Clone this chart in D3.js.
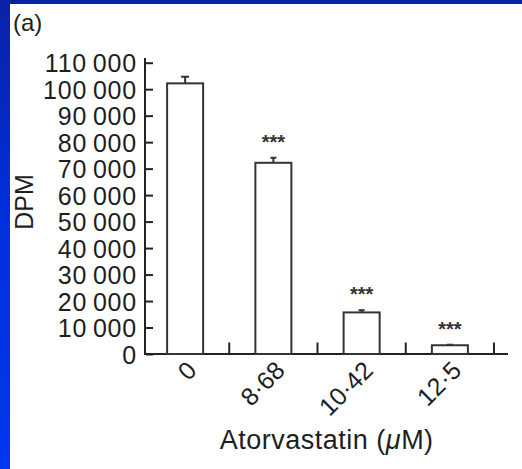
<!DOCTYPE html>
<html>
<head>
<meta charset="utf-8">
<script src="https://cdn.jsdelivr.net/npm/d3@7"></script>
<style>
  html, body { margin: 0; padding: 0; }
  body { width: 522px; height: 469px; overflow: hidden;
         background: linear-gradient(to bottom, #0b22a6 0%, #0030dc 45%, #0038ee 100%); }
  #chart { position: absolute; left: 10px; top: 4px; }
  text { font-family: "Liberation Sans", Arial, Helvetica, sans-serif; fill: #1e1e1e; }
</style>
</head>
<body>
<div id="chart"></div>
<script>
// 图表数据
const categories = ["0", "8·68", "10·42", "12·5"];
const dpm = [102200, 72200, 15700, 3300];
const dpmErr = [2500, 1900, 850, 200];
const stars = ["", "***", "***", "***"];
const yTicks = [0, 10000, 20000, 30000, 40000, 50000, 60000, 70000, 80000, 90000, 100000, 110000];

// 白色面板尺寸 (页面坐标减去偏移)
const ox = 10, oy = 4;
const width = 522 - ox;
const height = 469 - oy;

const svg = d3.select("#chart")
    .append("svg")
    .attr("width", width)
    .attr("height", height)
    .style("background", "#fff")
    .style("display", "block");

// g 内坐标 = 页面坐标
const g = svg.append("g").attr("transform", `translate(${-ox},${-oy})`);

// 坐标系
const y0 = 354;
const x = d3.scaleBand().domain(categories).range([141, 494]).padding(0);
const y = d3.scaleLinear().domain([0, 110000]).range([y0, 62.7]);
const barW = 36;

const fmt = d3.formatLocale({ decimal: ".", thousands: "\u2009", grouping: [3], currency: ["", ""] }).format(",d");

// y 轴
const yAxis = g.append("g")
    .attr("transform", "translate(145,0)")
    .call(d3.axisLeft(y).tickValues(yTicks).tickSize(-8).tickPadding(8).tickFormat(fmt));
yAxis.select(".domain").remove();
yAxis.selectAll(".tick line").attr("stroke", "#222").attr("stroke-width", 2).attr("x1", 1);
yAxis.selectAll(".tick text")
    .style("font-size", "25px")
    .style("letter-spacing", "0.8px")
    .attr("dy", "0.36em")
    .style("fill", "#1e1e1e");
g.append("line")
    .attr("x1", 145).attr("x2", 145)
    .attr("y1", y0 + 1).attr("y2", 58)
    .attr("stroke", "#222").attr("stroke-width", 2);

// x 轴
const xAxis = g.append("g")
    .attr("transform", `translate(0,${y0})`)
    .call(d3.axisBottom(x).tickSize(0));
xAxis.select(".domain").remove();
xAxis.selectAll(".tick text")
    .attr("x", 0).attr("y", 0).attr("dy", 0)
    .attr("text-anchor", "end")
    .attr("transform", "translate(13,18) rotate(-45)")
    .style("font-size", "25px")
    .style("fill", "#1e1e1e");

g.append("line")
    .attr("x1", 144).attr("x2", 508)
    .attr("y1", y0).attr("y2", y0)
    .attr("stroke", "#222").attr("stroke-width", 2);

// 类别分隔刻度 (向上)
g.append("g").selectAll("line")
    .data(categories)
    .enter()
    .append("line")
    .attr("x1", d => x(d) + x.bandwidth())
    .attr("x2", d => x(d) + x.bandwidth())
    .attr("y1", y0)
    .attr("y2", y0 - 11.5)
    .attr("stroke", "#222")
    .attr("stroke-width", 2);

// 柱子
g.append("g").selectAll("rect")
    .data(categories)
    .enter()
    .append("rect")
    .attr("x", d => x(d) + x.bandwidth() / 2 - barW / 2)
    .attr("y", (d, i) => y(dpm[i]))
    .attr("width", barW)
    .attr("height", (d, i) => y0 - y(dpm[i]))
    .attr("fill", "#fff")
    .attr("stroke", "#333")
    .attr("stroke-width", 2);

// 误差线
const errG = g.append("g");
categories.forEach((c, i) => {
    const cx = x(c) + x.bandwidth() / 2;
    const top = y(dpm[i] + dpmErr[i]);
    const capW = i === 0 ? 6 : 4;
    errG.append("line")
        .attr("x1", cx).attr("x2", cx)
        .attr("y1", y(dpm[i])).attr("y2", top)
        .attr("stroke", "#333").attr("stroke-width", 2);
    errG.append("line")
        .attr("x1", cx - capW / 2 - 1).attr("x2", cx + capW / 2 + 1)
        .attr("y1", top).attr("y2", top)
        .attr("stroke", "#333").attr("stroke-width", 2);
});

// 显著性星号
g.append("g").selectAll("text")
    .data(categories)
    .enter()
    .append("text")
    .attr("x", d => x(d) + x.bandwidth() / 2)
    .attr("y", (d, i) => y(dpm[i] + dpmErr[i]) - 20 + 11)
    .attr("text-anchor", "middle")
    .style("font-size", "20px")
    .style("font-weight", "bold")
    .style("fill", "#333")
    .text((d, i) => stars[i]);

// 轴标题
g.append("text")
    .attr("transform", "translate(33,202) rotate(-90)")
    .attr("text-anchor", "middle")
    .style("font-size", "25px")
    .text("DPM");

g.append("text")
    .attr("x", 326.7)
    .attr("y", 449.3)
    .attr("text-anchor", "middle")
    .style("font-size", "27px")
    .style("letter-spacing", "0.5px")
    .html('Atorvastatin (<tspan font-style="italic">μ</tspan>M)');

// 面板标签
g.append("text")
    .attr("x", 13)
    .attr("y", 31)
    .style("font-size", "24px")
    .text("(a)");
</script>
</body>
</html>
